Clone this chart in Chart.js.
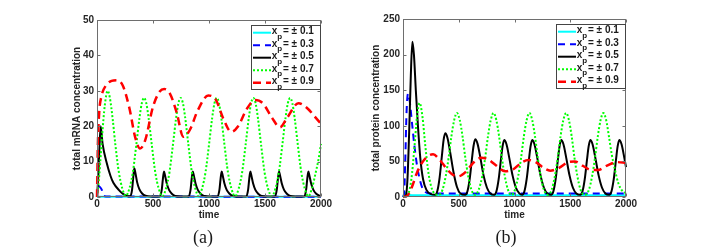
<!DOCTYPE html>
<html>
<head>
<meta charset="utf-8">
<script src="https://cdn.jsdelivr.net/npm/chart.js@4"></script>
<style>
  body { margin: 0; background: #fff; width: 712px; height: 252px; overflow: hidden; }
  .panel { position: absolute; top: 0; width: 356px; height: 252px; }
  .cap { position: absolute; top: 228px; font-family: "Liberation Serif", serif; font-size: 18px; line-height: 19px; color: #1a1a1a; transform: translateX(-50%); }
</style>
</head>
<body>
<div class="panel" style="left:0"><canvas id="mrna" width="356" height="252"></canvas></div>
<div class="panel" style="left:356px"><canvas id="protein" width="356" height="252"></canvas></div>
<div class="cap" style="left:203px">(a)</div>
<div class="cap" style="left:506px">(b)</div>
<script>
var legendValues = ['0.1', '0.3', '0.5', '0.7', '0.9']
var xTicks = [0, 500, 1000, 1500, 2000]

// (a) total mRNA concentration
var mrnaT01 = [0, 2000]
var mrnaV01 = [0.1, 0.1]
var mrnaT03 = [0, 8, 20, 42, 55, 80, 2000]
var mrnaV03 = [0, 3.3, 3.0, 2.1, 0.6, 0.15, 0.1]
var mrnaT05 = [0, 12, 22, 33, 50, 87, 120, 146, 200, 235, 270,
  297, 313, 323, 333, 343, 358, 378, 403, 433, 483,
  562, 578, 588, 598, 608, 623, 643, 668, 698, 748,
  819, 835, 845, 855, 865, 880, 900, 925, 955, 1005,
  1077, 1093, 1103, 1113, 1123, 1138, 1158, 1183, 1213, 1263,
  1333, 1349, 1359, 1369, 1379, 1394, 1414, 1439, 1469, 1519,
  1589, 1605, 1615, 1625, 1635, 1650, 1670, 1695, 1725, 1775,
  1851, 1867, 1877, 1887, 1897, 1912, 1932, 1957, 1987, 2000]
var mrnaV05 = [0, 6, 14, 20, 15, 9.6, 6, 4, 1.8, 0.8, 0.3,
  0.2, 2, 5.3, 8.1, 6.8, 4.2, 2.2, 1, 0.35, 0.15,
  0.15, 2, 5, 7.2, 6, 3.8, 2, 0.9, 0.3, 0.15,
  0.15, 2, 5, 7.2, 6, 3.8, 2, 0.9, 0.3, 0.15,
  0.15, 2, 5, 7.2, 6, 3.8, 2, 0.9, 0.3, 0.15,
  0.15, 2, 5, 7.2, 6, 3.8, 2, 0.9, 0.3, 0.15,
  0.15, 2, 5, 7.2, 6, 3.8, 2, 0.9, 0.3, 0.15,
  0.15, 2, 5, 7.2, 6, 3.8, 2, 0.9, 0.35, 0.25]
var mrnaT07 = [0, 20, 45, 70, 95, 115, 140, 165, 195, 225, 257,
  290, 320, 350, 380, 400, 420, 440, 460, 490, 520, 550, 583,
  617, 647, 677, 707, 727, 747, 767, 787, 817, 847, 877, 908,
  939, 969, 999, 1029, 1049, 1069, 1089, 1109, 1139, 1169, 1199, 1232,
  1266, 1296, 1326, 1356, 1376, 1396, 1416, 1436, 1466, 1496, 1526, 1560,
  1594, 1624, 1654, 1684, 1704, 1724, 1744, 1764, 1794, 1824, 1854, 1887,
  1920, 1950, 1980, 2000]
var mrnaV07 = [0, 6, 17, 26, 30, 28, 22, 14.5, 7, 2.5, 0.3,
  2.5, 7, 14.5, 22.5, 26.5, 28, 26.5, 22.5, 14.5, 7, 2.5, 0.2,
  2.5, 7, 14.5, 22.5, 26.5, 28, 26.5, 22.5, 14.5, 7, 2.5, 0.2,
  2.5, 7, 14.5, 22.5, 26.5, 28, 26.5, 22.5, 14.5, 7, 2.5, 0.2,
  2.5, 7, 14.5, 22.5, 26.5, 28, 26.5, 22.5, 14.5, 7, 2.5, 0.2,
  2.5, 7, 14.5, 22.5, 26.5, 28, 26.5, 22.5, 14.5, 7, 2.5, 0.2,
  2.5, 6.5, 11, 15]
var mrnaT09 = [0, 8, 20, 40, 80, 130, 176, 230, 290, 340, 384, 430, 500, 560, 600, 650, 710, 771,
  830, 900, 994, 1060, 1130, 1199, 1260, 1340, 1411, 1480, 1560, 1634, 1700, 1798, 1880, 1950, 2000]
var mrnaV09 = [0, 15, 24, 28.5, 31.5, 32.8, 33, 31.5, 25, 17, 13.7, 16, 25.5, 29.8, 30.5, 29.3, 24, 17,
  19, 24.5, 28.7, 27.5, 22, 18.4, 20, 25, 27.4, 26.5, 22.5, 19.7, 22.5, 26.5, 25, 22.5, 20.7]

// (b) total protein concentration
var protT01 = [0, 10, 24, 45, 80, 2000]
var protV01 = [0, 4, 6, 3.5, 2.5, 2.5]
var protT03 = [0, 10, 20, 32, 45, 60, 80, 100, 125, 150, 175, 200, 240, 2000]
var protV03 = [0, 5, 50, 120, 145, 135, 105, 75, 45, 25, 12, 7, 5, 5]
var protT05 = [0, 25, 40, 55, 70, 84, 98, 115, 134, 155, 180, 210, 250,
  289, 309, 329, 349, 364, 379, 399, 424, 454, 484, 514,
  558, 578, 598, 618, 633, 648, 668, 693, 723, 753, 783,
  818, 838, 858, 878, 893, 908, 928, 953, 983, 1013, 1043,
  1069, 1089, 1109, 1129, 1144, 1159, 1179, 1204, 1234, 1264, 1294,
  1329, 1349, 1369, 1389, 1404, 1419, 1439, 1464, 1494, 1524, 1554,
  1590, 1610, 1630, 1650, 1665, 1680, 1700, 1725, 1755, 1785, 1815,
  1850, 1870, 1890, 1910, 1925, 1940, 1960, 1985, 2000]
var protV05 = [0, 2, 25, 90, 170, 218, 200, 150, 100, 55, 25, 10, 4,
  3, 9, 28, 58, 80, 89.5, 83, 62, 34, 14, 5,
  3, 8, 25, 53, 72, 81, 75, 56, 30, 13, 5,
  3, 8, 25, 52, 71, 80, 74, 55, 30, 13, 5,
  3, 8, 25, 52, 71, 80, 74, 55, 30, 13, 5,
  3, 8, 25, 52, 71, 80, 74, 55, 30, 13, 5,
  3, 8, 25, 52, 71, 80, 74, 55, 30, 13, 5,
  3, 8, 25, 52, 71, 80, 74, 55, 42]
var protT07 = [0, 30, 50, 75, 100, 125, 149, 175, 200, 230, 260, 290,
  320, 354, 384, 409, 434, 459, 484, 509, 534, 559, 584, 614,
  648, 678, 712, 737, 762, 787, 812, 837, 862, 887, 912, 942,
  973, 1004, 1034, 1059, 1084, 1109, 1134, 1159, 1184, 1209, 1234, 1264,
  1298, 1333, 1363, 1388, 1413, 1438, 1463, 1488, 1513, 1538, 1563, 1593,
  1630, 1667, 1697, 1722, 1747, 1772, 1797, 1822, 1847, 1872, 1901, 1930, 1960, 1991, 2000]
var protV07 = [0, 1, 5, 25, 65, 112, 132, 112, 72, 32, 11, 4,
  3, 10, 30, 55, 85, 108, 118, 108, 85, 55, 30, 10,
  3, 10, 30, 55, 85, 108, 118, 108, 85, 55, 30, 10,
  3, 10, 30, 55, 85, 108, 118, 108, 85, 55, 30, 10,
  3, 10, 30, 55, 85, 108, 118, 108, 85, 55, 30, 10,
  3, 10, 30, 55, 85, 108, 118, 108, 85, 60, 38, 20, 10, 6, 5]
var protT09 = [0, 40, 80, 120, 170, 220, 270, 330, 390, 440, 495, 560, 630, 700, 760, 830, 916,
  990, 1060, 1125, 1190, 1260, 1320, 1400, 1480, 1540, 1610, 1690, 1750, 1830, 1920, 2000]
var protV09 = [0, 2, 14, 32, 48, 57, 60, 52, 40, 32, 29, 35, 48, 55, 53, 45, 36,
  39, 48, 52, 49, 41, 37, 41, 49, 50, 44, 38, 38, 44, 49, 48]

var lineStyles = [
  { color: '#00ffff', width: 2, dash: [] },
  { color: '#0000ff', width: 2, dash: [7, 5] },
  { color: '#000000', width: 2, dash: [] },
  { color: '#00ff00', width: 2, dash: [2, 2] },
  { color: '#ff0000', width: 2.5, dash: [8, 5] }
]

function toPoints(t, v) {
  var out = []
  for (var i = 0; i < t.length; i++) {
    out.push({ x: t[i], y: v[i] })
  }
  return out
}

function plainLabel(value) {
  return String(value)
}

var tickFont = { family: '"Liberation Sans", Arial, sans-serif', size: 10, weight: 'bold' }

var framePlugin = {
  id: 'frame',
  afterDatasetsDraw: function(chart) {
    var a = chart.chartArea, ctx = chart.ctx
    var xs = chart.scales.x, ys = chart.scales.y
    ctx.save()
    ctx.strokeStyle = '#6e6e6e'
    ctx.lineWidth = 1
    var l = Math.round(a.left) + 0.5, r = Math.round(a.right) - 0.5
    var t = Math.round(a.top) + 0.5, b = Math.round(a.bottom) - 0.5
    ctx.strokeRect(l, t, r - l, b - t)
    ctx.beginPath()
    xs.ticks.forEach(function(tk) {
      var px = Math.round(xs.getPixelForValue(tk.value)) + 0.5
      ctx.moveTo(px, b); ctx.lineTo(px, b - 3)
      ctx.moveTo(px, t); ctx.lineTo(px, t + 3)
    })
    ys.ticks.forEach(function(tk) {
      var py = Math.round(ys.getPixelForValue(tk.value)) + 0.5
      ctx.moveTo(l, py); ctx.lineTo(l + 3, py)
      ctx.moveTo(r, py); ctx.lineTo(r - 3, py)
    })
    ctx.stroke()
    ctx.restore()
  }
}

var legendPlugin = {
  id: 'boxLegend',
  afterDraw: function(chart) {
    var a = chart.chartArea, ctx = chart.ctx
    var w = 70, h = 65
    var x0 = Math.round(a.right) - w, y0 = Math.round(a.top) + 5
    ctx.save()
    ctx.fillStyle = '#ffffff'
    ctx.fillRect(x0, y0, w, h)
    ctx.strokeStyle = '#444'
    ctx.lineWidth = 1
    ctx.strokeRect(x0 + 0.5, y0 + 0.5, w - 1, h - 1)
    for (var i = 0; i < legendValues.length; i++) {
      var st = lineStyles[i]
      var yc = y0 + 6.7 + i * 12.5
      ctx.strokeStyle = st.color
      ctx.lineWidth = st.width
      ctx.setLineDash(st.dash)
      ctx.beginPath()
      ctx.moveTo(x0 + 2, yc + 1)
      ctx.lineTo(x0 + 20, yc + 1)
      ctx.stroke()
      ctx.setLineDash([])
      ctx.fillStyle = '#1a1a1a'
      ctx.textBaseline = 'middle'
      ctx.textAlign = 'left'
      ctx.font = 'bold 10px "Liberation Sans", Arial, sans-serif'
      ctx.fillText('x', x0 + 20.7, yc)
      ctx.font = 'bold 8px "Liberation Sans", Arial, sans-serif'
      ctx.fillText('p', x0 + 26.3, yc + 5)
      ctx.font = 'bold 10px "Liberation Sans", Arial, sans-serif'
      ctx.fillText('= \u00b1 ' + legendValues[i], x0 + 32, yc)
    }
    ctx.restore()
  }
}

function makeChart(id, series, yMax, yStep, yTitle, pad, yWidth) {
  var datasets = []
  for (var i = 0; i < series.length; i++) {
    var st = lineStyles[i]
    datasets.push({
      label: legendValues[i],
      data: toPoints(series[i][0], series[i][1]),
      borderColor: st.color,
      borderWidth: st.width,
      borderDash: st.dash,
      pointRadius: 0,
      fill: false,
      tension: 0.4,
      cubicInterpolationMode: 'monotone',
      clip: false,
      order: series.length - 1 - i
    })
  }
  return new Chart(document.getElementById(id), {
    type: 'line',
    data: { datasets: datasets },
    options: {
      responsive: false,
      animation: false,
      devicePixelRatio: 1,
      layout: { padding: pad },
      plugins: { legend: { display: false }, tooltip: { enabled: false } },
      scales: {
        x: {
          type: 'linear', min: 0, max: 2000,
          afterBuildTicks: function(s) { s.ticks = xTicks.map(function(v) { return { value: v } }) },
          afterFit: function(s) { s.height = 25 },
          grid: { display: false, drawTicks: false },
          border: { display: false },
          ticks: { font: tickFont, color: '#262626', padding: 1, maxRotation: 0, callback: plainLabel },
          title: { display: true, text: 'time', font: tickFont, color: '#262626', padding: { top: 0, bottom: 0.5 } }
        },
        y: {
          type: 'linear', min: 0, max: yMax,
          ticks: { stepSize: yStep, font: tickFont, color: '#262626', padding: 3, callback: plainLabel },
          afterFit: function(s) { s.width = yWidth },
          grid: { display: false, drawTicks: false },
          border: { display: false },
          title: { display: true, text: yTitle, font: tickFont, color: '#262626', padding: { top: 0, bottom: 0 } }
        }
      }
    },
    plugins: [framePlugin, legendPlugin]
  })
}

makeChart('mrna', [[mrnaT01, mrnaV01], [mrnaT03, mrnaV03], [mrnaT05, mrnaV05], [mrnaT07, mrnaV07], [mrnaT09, mrnaV09]],
  50, 10, 'total mRNA concentration', { left: 71, right: 35, top: 20, bottom: 30 }, 26)
makeChart('protein', [[protT01, protV01], [protT03, protV03], [protT05, protV05], [protT07, protV07], [protT09, protV09]],
  250, 50, 'total protein concentration', { left: 14.5, right: 86, top: 19, bottom: 30 }, 32.5)
</script>
</body>
</html>
